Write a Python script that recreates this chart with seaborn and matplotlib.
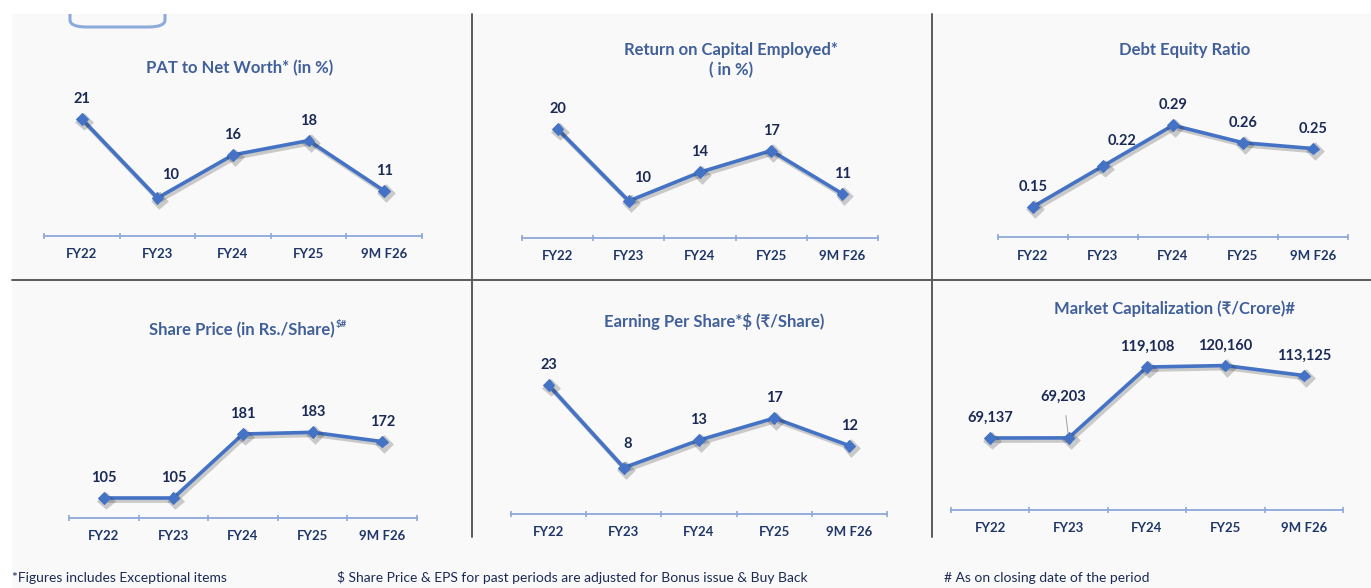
import matplotlib
matplotlib.use("Agg")
import matplotlib.pyplot as plt
import matplotlib.patheffects as pe
from matplotlib.patches import Rectangle, FancyBboxPatch
from matplotlib.lines import Line2D
from matplotlib.ticker import FixedLocator
import seaborn as sns
import pandas as pd

# ---------------- data ----------------
periods = ["FY22", "FY23", "FY24", "FY25", "9M F26"]
pat_to_net_worth = [21, 10, 16, 18, 11]
roce = [20, 10, 14, 17, 11]
debt_equity = [0.15, 0.22, 0.29, 0.26, 0.25]
share_price = [105, 105, 181, 183, 172]
eps = [23, 8, 13, 17, 12]
market_cap = [69137, 69203, 119108, 120160, 113125]

titles = [
    "PAT to Net Worth* (in %)",
    "Return on Capital Employed*\n( in %)",
    "Debt Equity Ratio",
    "Share Price (in Rs./Share)",
    "Earning Per Share*$ (\u20b9/Share)",
    "Market Capitalization (\u20b9/Crore)#",
]
footnotes = [
    "*Figures includes Exceptional items",
    "$ Share Price & EPS for past periods are adjusted for Bonus issue & Buy Back",
    "# As on closing date of the period",
]

# ---------------- style ----------------
sns.set_theme(style="white")
FONT = ["Lato", "DejaVu Sans"]
plt.rcParams["font.family"] = FONT

W, H = 1371, 588
LINE_C = "#4472c4"
LABEL_C = "#1a2a55"
TITLE_C = "#41609a"
TICK_C = "#1f3768"
AXIS_C = "#8ea9d8"
DIV_C = "#5a5a5a"
BG_C = "#f9f9f9"

fig = plt.figure(figsize=(W / 100, H / 100), dpi=100)
fig.patch.set_facecolor("white")


def fx(px):
    return px / W


def fy(py):
    return 1 - py / H


# background panel
fig.patches.append(Rectangle((fx(12), 0), 1 - fx(12), fy(14), transform=fig.transFigure,
                             facecolor=BG_C, edgecolor="none", zorder=-3))
# clipped rounded box at top-left
fig.patches.append(FancyBboxPatch((fx(70), fy(27)), fx(165) - fx(70), fy(0) - fy(27),
                                  boxstyle="round,pad=0,rounding_size=0.012",
                                  transform=fig.transFigure, facecolor="none",
                                  edgecolor="#8eaadb", lw=2.2, zorder=-2))
fig.patches.append(Rectangle((0, fy(14)), 1, 1 - fy(14), transform=fig.transFigure,
                             facecolor="white", edgecolor="none", zorder=-1))

# dividers
fig.lines.append(Line2D([fx(12), 1], [fy(280), fy(280)], transform=fig.transFigure,
                        color=DIV_C, lw=1.4, zorder=3))
for xv in (472, 932):
    fig.lines.append(Line2D([fx(xv), fx(xv)], [fy(14), fy(537)], transform=fig.transFigure,
                            color=DIV_C, lw=1.4, zorder=3))

# panel layout (pixels): x0, x1, y_top, y_axis ; y limits
panels = [
    dict(vals=pat_to_net_worth, box=(44, 422, 90, 236), ylim=(4.71, 25.04), fmt="{:.0f}",
         title_xy=(240, 68), special={1: (13, 23, True)}),
    dict(vals=roce, box=(522, 878, 90, 238), ylim=(4.86, 25.42), fmt="{:.0f}",
         title_xy=(731, 60), special={1: (14, 23, True)}),
    dict(vals=debt_equity, box=(998, 1348, 90, 237), ylim=(0.098, 0.3506), fmt="{:.2f}",
         title_xy=(1185, 50), special={1: (19, 25, False)}),
    dict(vals=share_price, box=(69, 417, 360, 518), ylim=(81.25, 268.9), fmt="{:.0f}",
         title_xy=None, special={}),
    dict(vals=eps, box=(511, 887, 360, 514), ylim=(-0.41, 27.56), fmt="{:.0f}",
         title_xy=(714, 321), special={1: (4, 24, True)}),
    dict(vals=market_cap, box=(951, 1343, 340, 510), ylim=(18433, 138151), fmt="{:,.0f}",
         title_xy=(1175, 309), special={1: (-5, 41, True)}),
]

shadow = [pe.SimpleLineShadow(offset=(1.5, -1.8), shadow_color="#222222", alpha=0.22, linewidth=3.4),
          pe.Normal()]

for i, p in enumerate(panels):
    x0, x1, yt, yb = p["box"]
    ax = fig.add_axes([fx(x0), fy(yb), fx(x1) - fx(x0), fy(yt) - fy(yb)])
    ax.set_facecolor("none")
    df = pd.DataFrame({"period": periods, "value": p["vals"]})
    sns.lineplot(data=df, x="period", y="value", ax=ax, color=LINE_C, lw=2.6,
                 marker="D", markersize=6, markeredgecolor=LINE_C, sort=False,
                 path_effects=shadow, zorder=3)
    ax.set_xlim(-0.5, len(periods) - 0.5)
    ax.set_ylim(*p["ylim"])
    ax.set_xlabel("")
    ax.set_ylabel("")
    for s in ("top", "right", "left"):
        ax.spines[s].set_visible(False)
    ax.spines["bottom"].set_color(AXIS_C)
    ax.spines["bottom"].set_linewidth(1.3)
    ax.set_yticks([])
    ax.set_xticks(range(len(periods)))
    ax.set_xticklabels(periods, fontsize=9.5, fontweight="bold", color=TICK_C)
    ax.tick_params(axis="x", which="major", length=0, pad=9, bottom=True)
    ax.xaxis.set_minor_locator(FixedLocator([k - 0.5 for k in range(len(periods) + 1)]))
    ax.tick_params(axis="x", which="minor", length=5, width=1.2, color=AXIS_C,
                   direction="inout", bottom=True)

    for k, v in enumerate(p["vals"]):
        dx, dy, leader = p["special"].get(k, (0, 20, False))
        kw = {}
        if leader:
            kw["arrowprops"] = dict(arrowstyle="-", color="#a0a0a0", lw=0.7,
                                    shrinkA=6, shrinkB=3)
        ax.annotate(p["fmt"].format(v), xy=(k, v), xytext=(dx, dy),
                    textcoords="offset pixels", ha="center", va="center",
                    fontsize=10.5, fontweight="bold", color=LABEL_C, zorder=5, **kw)

    if p["title_xy"] is not None:
        tx, ty = p["title_xy"]
        fig.text(fx(tx), fy(ty), titles[i], ha="center", va="center", fontsize=12,
                 fontweight="bold", color=TITLE_C, linespacing=1.3)

# share price title with superscript
fig.text(fx(335), fy(330), titles[3], ha="right", va="center", fontsize=12,
         fontweight="bold", color=TITLE_C)
fig.text(fx(336), fy(325), "$#", ha="left", va="center", fontsize=7,
         fontweight="bold", color=TITLE_C)

# footnotes
for txt, xp in zip(footnotes, (12, 337, 944)):
    fig.text(fx(xp), fy(578), txt, ha="left", va="center", fontsize=10, color=LABEL_C)

fig.savefig("out.png", dpi=100, facecolor=fig.get_facecolor())
